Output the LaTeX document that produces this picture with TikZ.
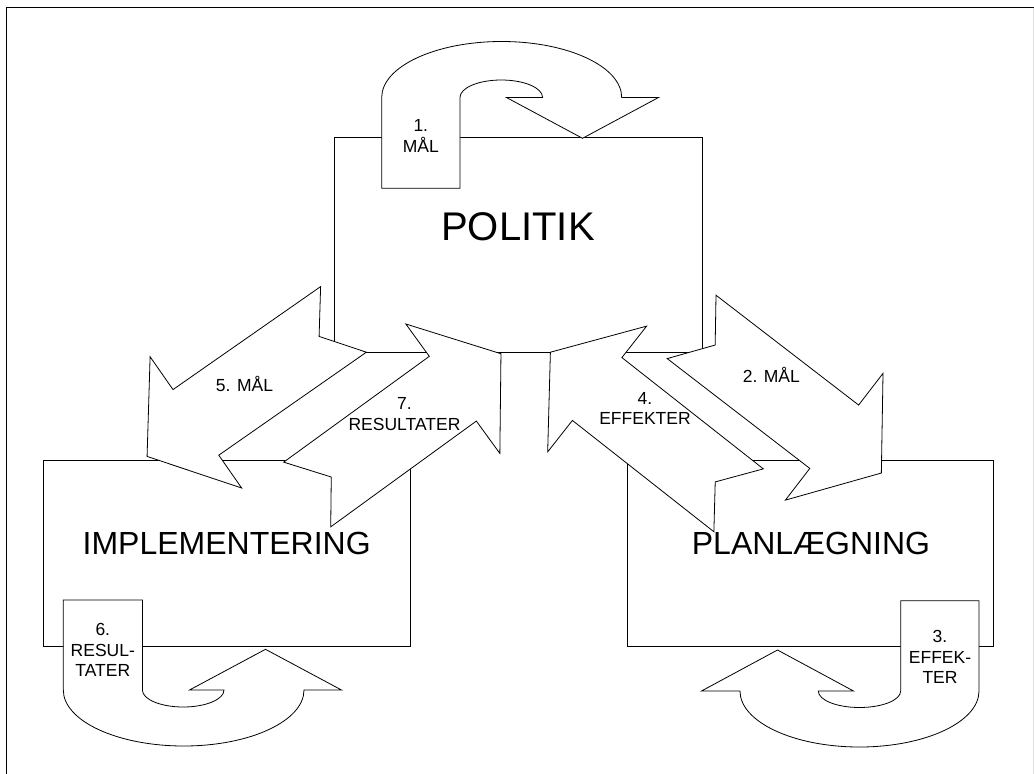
\documentclass[tikz,border=0pt]{standalone}
\usepackage{fontspec}
\setmainfont{Liberation Sans}
\tikzset{
  ln/.style={line width=0.8pt, line join=miter},
  shp/.style={ln, draw=black, fill=white},
  boxline/.style={ln, draw=black},
  lbl/.style={font=\fontsize{17.5}{20.5}\selectfont, align=center, inner sep=0pt},
  big/.style={font=\fontsize{40}{44}\selectfont, inner sep=0pt},
  mid/.style={font=\fontsize{32}{36}\selectfont, inner sep=0pt},
}
% notched block arrow: tail midpoint (#1,#2), rotation #3
\newcommand\notcharrow[3]{%
  \draw[shp, shift={(#1,#2)}, rotate=#3]
    (0,-40) -- (29.75,0) -- (0,40) -- (180,40) -- (180,80) -- (239.5,0)
    -- (180,-80) -- (180,-40) -- cycle;}
\begin{document}
\begin{tikzpicture}[x=1pt,y=-1pt]
\useasboundingbox (0,0) rectangle (1034,774);
% outer frame
\draw[line width=1.6pt] (6.5,774) -- (6.5,7.5) -- (1034,7.5);
\draw[gray!25, line width=1pt] (1033.3,7.5) -- (1033.3,774);

% boxes
\draw[boxline] (334.5,137) rectangle (702,352);
\draw[boxline] (43.3,460.7) rectangle (410,646.7);
\draw[boxline] (627.3,460) rectangle (993.3,646.7);

% U-turn arrow 1
\draw[shp] (381.7,188.3) -- (381.7,97.5)
  .. controls (381.7,66.6) and (435.4,41.5) .. (501.7,41.5)
  .. controls (568,41.5) and (621.7,66.6) .. (621.7,97.5)
  -- (658.5,97.5) -- (582.5,138.3) -- (506.5,97.5) -- (542.6,97.5)
  .. controls (542.6,87.8) and (524.1,80) .. (501.3,80)
  .. controls (478.5,80) and (460,87.8) .. (460,97.5)
  -- (460,188.3) -- cycle;
\node[lbl] (t1) at (420.8,136) {1.\\MÅL};

% U-turn arrow 6
\draw[shp] (63.3,600) -- (63.3,690)
  .. controls (63.3,720.9) and (117.3,746) .. (183.7,746)
  .. controls (250.1,746) and (304,720.9) .. (304,690)
  -- (341.5,690) -- (265.5,649.3) -- (189.5,690) -- (224,690)
  .. controls (224,699.4) and (205.7,707) .. (183.2,707)
  .. controls (160.7,707) and (142.4,699.4) .. (142.4,690)
  -- (142.4,600) -- cycle;
\node[lbl] (t6) at (102.8,650) {6.\\RESUL-\\TATER};

% U-turn arrow 3
\draw[shp] (979,600.7) -- (979,691)
  .. controls (979,721.9) and (925.5,747) .. (859.5,747)
  .. controls (793.5,747) and (740,721.9) .. (740,691)
  -- (701.5,691) -- (777.5,650) -- (853.5,691) -- (818.3,691)
  .. controls (818.3,700.1) and (836.7,707.5) .. (859.5,707.5)
  .. controls (882.3,707.5) and (900.7,700.1) .. (900.7,691)
  -- (900.7,600.7) -- cycle;
\node[lbl] (t3) at (940,657) {3.\\EFFEK-\\TER};

% diagonal block arrows
\notcharrow{343.5}{319.4}{-145.1}
\notcharrow{307.2}{494.5}{36}
\notcharrow{691.6}{326.9}{-37.6}
\notcharrow{738.6}{500.3}{141.8}

% labels
\node[big] (politik) at (518,227) {POLITIK};
\node[mid] (impl) at (226.7,543.3) {IMPLEMENTERING};
\node[mid] (plan) at (811,543) {PLANLÆGNING};
\node[lbl] (t5) at (244.5,384.3) {5. MÅL};
\node[lbl] (t7) at (404.5,414) {7.\\RESULTATER};
\node[lbl] (t2) at (771.3,375) {2. MÅL};
\node[lbl] (t4) at (645,408.5) {4.\\EFFEKTER};
\end{tikzpicture}
\end{document}
